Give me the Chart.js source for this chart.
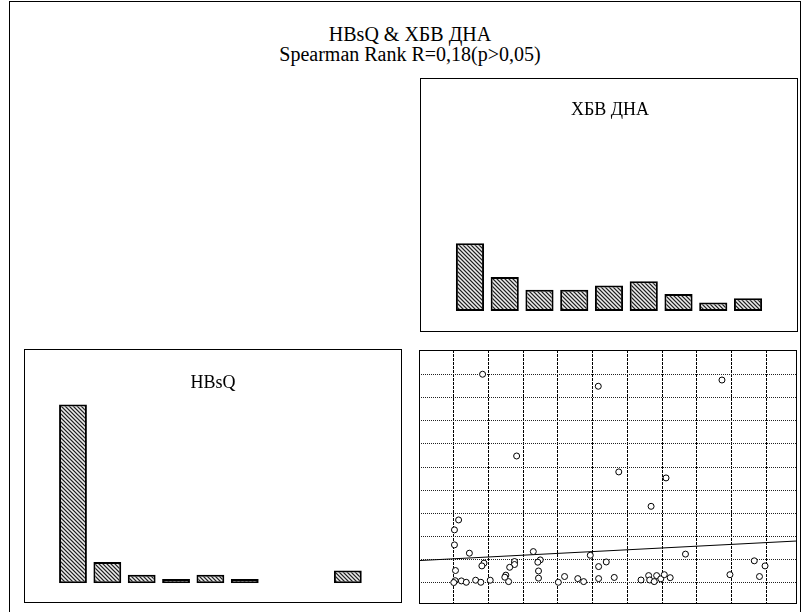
<!DOCTYPE html>
<html>
<head>
<meta charset="utf-8">
<script src="https://cdn.jsdelivr.net/npm/chart.js@4.4.1/dist/chart.umd.min.js"></script>
<style>
  body { margin: 0; background: #fff; overflow: hidden; width: 803px; height: 612px; position: relative; font-family: "Liberation Serif", "DejaVu Serif", serif; color: #000; }
  .frame { position: absolute; left: 9px; top: 1px; width: 792px; height: 640px; border: 1px solid #000; box-sizing: border-box; }
  canvas { position: absolute; }
  .t { position: absolute; text-align: center; white-space: nowrap; }
</style>
</head>
<body>
<div class="frame"></div>
<div class="t" style="left:210px; width:400px; top:24px; font-size:20px; line-height:20px;">HBsQ &amp; ХБВ ДНА<br>Spearman Rank R=0,18(p&gt;0,05)</div>

<canvas id="histX" width="378" height="254" style="left:420px; top:78px;"></canvas>
<canvas id="histY" width="378" height="254" style="left:24px; top:349px;"></canvas>
<canvas id="scatter" width="378" height="254" style="left:419px; top:350px;"></canvas>

<div class="t" style="left:510px; width:200px; top:100px; font-size:18px; line-height:18px;">ХБВ ДНА</div>
<div class="t" style="left:113px; width:200px; top:373px; font-size:18px; line-height:18px;">HBsQ</div>

<script>
// histogram bins (9 intervals each)
const bins = ['1', '2', '3', '4', '5', '6', '7', '8', '9'];
const xbvCounts = [16, 8, 5, 5, 6, 7, 4, 2, 3];      // ХБВ ДНА
const hbsqCounts = [42, 5, 2, 1, 2, 1, 0, 0, 3];     // HBsQ
const histMax = 55;

// scatter values (grid units), x = ХБВ ДНА, y = HBsQ
const scatterX = [1.83, 5.16, 8.72, 2.81, 5.75, 7.11, 6.68, 1.14, 1.02, 1.02,
                  1.45, 3.29, 4.93, 7.67, 9.65, 9.96, 3.49, 3.42, 5.39, 5.17,
                  1.87, 1.81, 2.75, 2.75, 2.75, 2.61, 1.05, 3.44, 2.50, 2.47,
                  3.44, 4.19, 4.57, 4.74, 5.17, 5.62, 8.95, 9.80, 6.39, 6.61,
                  6.64, 6.77, 6.84, 6.96, 7.06, 7.23, 2.58, 1.04, 1.00, 1.22,
                  1.36, 1.63, 1.78, 2.05, 4.01];
const scatterY = [10.02, 9.50, 9.77, 6.48, 5.79, 5.53, 4.30, 3.71, 3.28, 2.63,
                  2.27, 2.34, 2.18, 2.23, 1.94, 1.72, 1.98, 1.88, 1.89, 1.69,
                  1.84, 1.72, 1.87, 1.91, 1.78, 1.66, 1.52, 1.50, 1.32, 1.23,
                  1.19, 1.26, 1.17, 1.04, 1.17, 1.22, 1.34, 1.26, 1.11, 1.30,
                  1.11, 1.04, 1.30, 1.16, 1.34, 1.21, 1.04, 1.08, 1.00, 1.07,
                  1.01, 1.10, 1.01, 1.10, 1.01];
const gridX = [1, 2, 3, 4, 5, 6, 7, 8, 9, 10];
const gridY = [1, 2, 3, 4, 5, 6, 7, 8, 9, 10];
const xRange = [0, 10.88];
const yRange = [0.07, 11.07];
// fitted line  y = fitA + fitB * x
const fitA = 1.95;
const fitB = 0.078;

// hatch fill like the original
function hatch() {
    const c = document.createElement('canvas');
    c.width = 4; c.height = 4;
    const g = c.getContext('2d');
    const shades = ['#222', '#a0a0a0', '#eeeeee', '#a0a0a0'];
    for (let y = 0; y < 4; y++) {
        for (let x = 0; x < 4; x++) {
            g.fillStyle = shades[((x - y) % 4 + 4) % 4];
            g.fillRect(x, y, 1, 1);
        }
    }
    return g.createPattern(c, 'repeat');
}
const pattern = hatch();

const boxPlugin = {
    id: 'box',
    afterDraw(chart) {
        const ctx = chart.ctx;
        ctx.save();
        ctx.strokeStyle = '#000';
        ctx.lineWidth = 1;
        ctx.strokeRect(0.5, 0.5, chart.width - 1, chart.height - 1);
        ctx.restore();
    }
};

function histChart(id, counts, pad) {
    return new Chart(document.getElementById(id), {
        type: 'bar',
        data: {
            labels: bins,
            datasets: [{ data: counts, backgroundColor: pattern, borderColor: '#000', borderWidth: 2, borderSkipped: false, barPercentage: 0.81, categoryPercentage: 1 }]
        },
        options: {
            responsive: false, animation: false, devicePixelRatio: 1,
            layout: { padding: pad, autoPadding: false },
            plugins: { legend: { display: false }, tooltip: { enabled: false } },
            scales: {
                x: { display: false },
                y: { display: false, min: 0, max: histMax }
            }
        },
        plugins: [boxPlugin]
    });
}

histChart('histX', xbvCounts, { left: 32.6, right: 32.6, top: 0, bottom: 21 });
histChart('histY', hbsqCounts, { left: 31.8, right: 37, top: 0, bottom: 19.7 });

const pts = scatterX.map((x, i) => ({ x: x, y: scatterY[i] }));
const fitLine = xRange.map(x => ({ x: x, y: fitA + fitB * x }));

new Chart(document.getElementById('scatter'), {
    type: 'scatter',
    data: {
        datasets: [
            { data: pts, pointRadius: 3, pointBackgroundColor: '#fff', pointBorderColor: '#000', pointBorderWidth: 1, order: 0 },
            { type: 'line', data: fitLine, borderColor: '#000', borderWidth: 1, pointRadius: 0, fill: false, order: 1 }
        ]
    },
    options: {
        responsive: false, animation: false, devicePixelRatio: 1,
        layout: { padding: 0, autoPadding: false },
        plugins: { legend: { display: false }, tooltip: { enabled: false } },
        scales: {
            x: {
                type: 'linear', min: xRange[0], max: xRange[1],
                afterBuildTicks: a => { a.ticks = gridX.map(v => ({ value: v })); },
                ticks: { display: false },
                grid: { color: '#000', lineWidth: 1, drawTicks: false },
                border: { display: false, dash: [3, 1] }
            },
            y: {
                min: yRange[0], max: yRange[1],
                afterBuildTicks: a => { a.ticks = gridY.map(v => ({ value: v })); },
                ticks: { display: false },
                grid: { color: '#222', lineWidth: 1, drawTicks: false },
                border: { display: false, dash: [1, 1] }
            }
        }
    },
    plugins: [boxPlugin]
});
</script>
</body>
</html>
